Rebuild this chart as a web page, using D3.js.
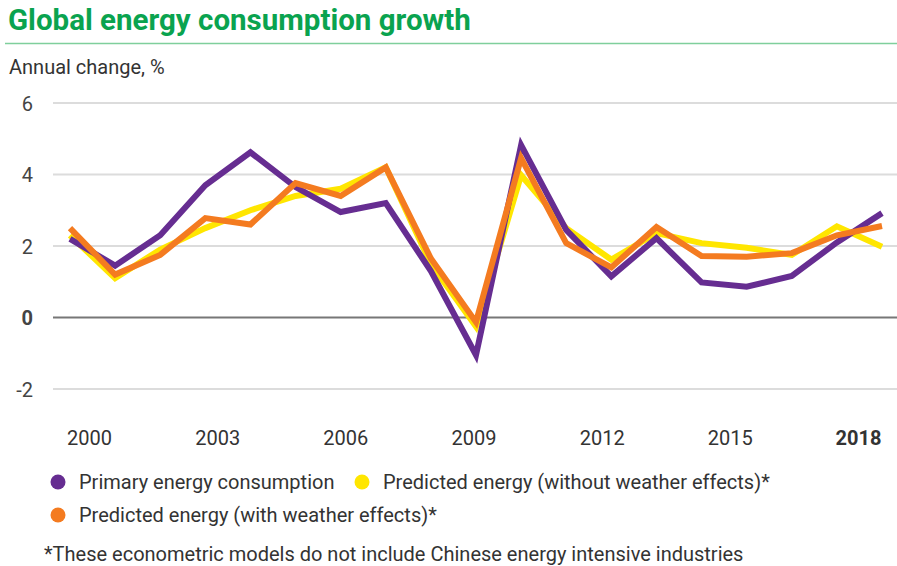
<!DOCTYPE html>
<html>
<head>
<meta charset="utf-8">
<script src="https://cdn.jsdelivr.net/npm/d3@7"></script>
<style>
  html, body { margin: 0; padding: 0; background: #fff; }
  svg { display: block; font-family: Roboto, "Noto Sans", sans-serif; }
</style>
</head>
<body>
<svg id="chart" width="897" height="566"></svg>
<script>
const years = d3.range(2000, 2019);
const primary   = [2.2, 1.45, 2.3, 3.7, 4.62, 3.65, 2.95, 3.2, 1.3, -1.05, 4.82, 2.45, 1.15, 2.22, 0.98, 0.86, 1.16, 2.1, 2.92];
const noWeather = [2.3, 1.1, 1.9, 2.5, 3.0, 3.4, 3.6, 4.2, 1.5, -0.25, 3.98, 2.5, 1.62, 2.36, 2.08, 1.95, 1.75, 2.55, 1.98];
const withWeather = [2.5, 1.2, 1.75, 2.78, 2.6, 3.76, 3.4, 4.2, 1.65, -0.13, 4.46, 2.08, 1.4, 2.53, 1.72, 1.7, 1.8, 2.3, 2.56];
const xTickLabels = ["2000", "2003", "2006", "2009", "2012", "2015", "2018"];
const yTicks = [-2, 0, 2, 4, 6];
const seriesNames = ["Primary energy consumption", "Predicted energy (without weather effects)*", "Predicted energy (with weather effects)*"];
const seriesColors = ["#662d91", "#ffe600", "#f47b20"];

const svg = d3.select("#chart");

// Title
svg.append("text").attr("x", 8).attr("y", 30)
  .attr("font-size", 29.5).attr("font-weight", 700).attr("fill", "#0aa34f")
  .text("Global energy consumption growth");
svg.append("line").attr("x1", 5).attr("x2", 897).attr("y1", 43.5).attr("y2", 43.5)
  .attr("stroke", "#7fcf9c").attr("stroke-width", 1.5);
svg.append("text").attr("x", 9).attr("y", 74)
  .attr("font-size", 20).attr("fill", "#333")
  .text("Annual change, %");

const x = d3.scaleLinear().domain([2000, 2018]).range([70, 882]);
const xLab = d3.scalePoint().domain(xTickLabels).range([89, 858]);
const y = d3.scaleLinear().domain([-2, 6]).range([389, 103]);

// Grid
const grid = svg.append("g");
grid.selectAll("line").data(yTicks).join("line")
  .attr("x1", 53).attr("x2", 897)
  .attr("y1", d => y(d)).attr("y2", d => y(d))
  .attr("stroke", d => d === 0 ? "#777" : "#dcdcdc")
  .attr("stroke-width", 2);

// Y axis labels
const yAxis = svg.append("g").attr("transform", "translate(33,0)")
  .call(d3.axisLeft(y).tickValues(yTicks).tickSize(0).tickPadding(0).tickFormat(d => String(d)));
yAxis.select(".domain").remove();
yAxis.selectAll("text").attr("font-size", 20).attr("fill", "#444")
  .attr("font-family", "Roboto, sans-serif")
  .attr("font-weight", d => d === 0 ? 700 : 400)
  .attr("dy", "0.35em");

// X axis labels
const xAxis = svg.append("g").attr("transform", "translate(0,431)")
  .call(d3.axisBottom(xLab).tickSize(0).tickPadding(0));
xAxis.select(".domain").remove();
xAxis.selectAll("text").attr("font-size", 20).attr("fill", "#333")
  .attr("font-family", "Roboto, sans-serif")
  .attr("font-weight", d => d === "2018" ? 700 : 400)
  .attr("dy", "0.71em");

// Lines
const line = d3.line().x((d, i) => x(years[i])).y(d => y(d));
const order = [
  { data: noWeather, color: seriesColors[1] },
  { data: primary, color: seriesColors[0] },
  { data: withWeather, color: seriesColors[2] }
];
svg.append("g").selectAll("path").data(order).join("path")
  .attr("d", d => line(d.data))
  .attr("fill", "none")
  .attr("stroke", d => d.color)
  .attr("stroke-width", 6)
  .attr("stroke-linejoin", "miter")
  .attr("stroke-linecap", "butt");

// Legend
const legendItems = [
  { name: seriesNames[0], color: seriesColors[0], cx: 58, cy: 482 },
  { name: seriesNames[1], color: seriesColors[1], cx: 362, cy: 482 },
  { name: seriesNames[2], color: seriesColors[2], cx: 58, cy: 515 }
];
const lg = svg.append("g").selectAll("g").data(legendItems).join("g");
lg.append("circle").attr("cx", d => d.cx).attr("cy", d => d.cy).attr("r", 7.5).attr("fill", d => d.color);
lg.append("text").attr("x", d => d.cx + 21).attr("y", d => d.cy).attr("dy", "0.35em")
  .attr("font-size", 20).attr("fill", "#333").text(d => d.name);

// Footnote
svg.append("text").attr("x", 44).attr("y", 561)
  .attr("font-size", 20).attr("fill", "#333")
  .text("*These econometric models do not include Chinese energy intensive industries");
</script>
</body>
</html>
